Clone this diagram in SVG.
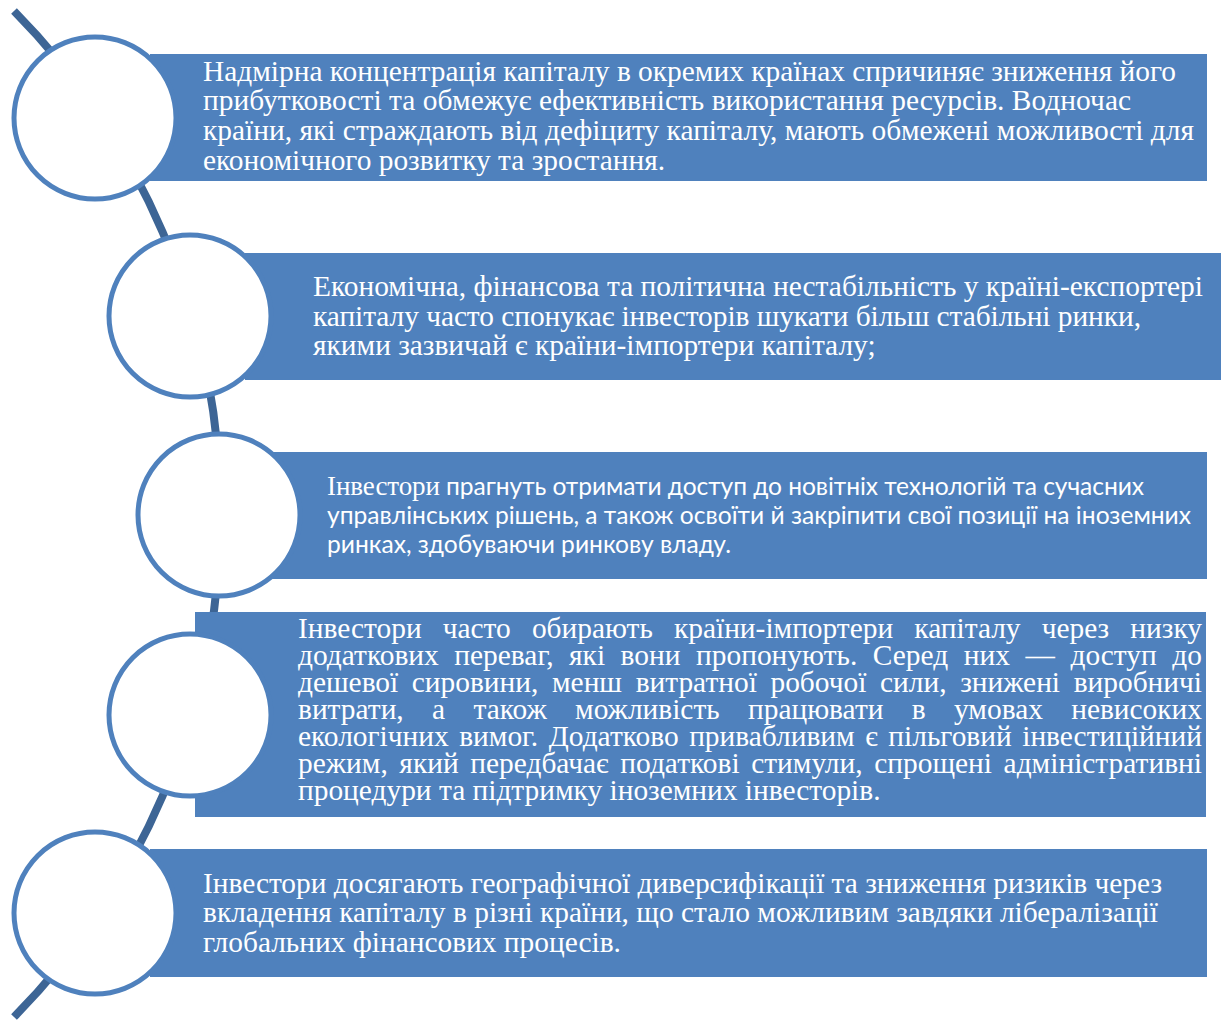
<svg xmlns="http://www.w3.org/2000/svg" width="1226" height="1021" viewBox="0 0 1226 1021">
<style>
.box{fill:#4f81bd}
.circ{fill:#ffffff;stroke:#4f81bd;stroke-width:5}
.arc{fill:none;stroke:#3d6595;stroke-width:8}
.t{font-family:"Liberation Serif","Times New Roman",serif;font-size:29.4px;fill:#ffffff}
.sans{font-family:Lato,"Open Sans","Liberation Sans",sans-serif;font-size:24.6px;fill:#ffffff}
.sf{font-family:"Liberation Serif","Times New Roman",serif;font-size:27px}
</style>
<g id="connectors">
<path class="arc" d="M14,11 A716,716 0 0 1 14,1017"/>
</g>
<g id="node1">
<rect class="box" x="150" y="54" width="1057" height="127"/>
<circle class="circ" cx="95" cy="118" r="81"/>
<text class="t">
<tspan x="203" y="81" textLength="973" lengthAdjust="spacing">Надмірна концентрація капіталу в окремих країнах спричиняє зниження його</tspan>
<tspan x="203" y="110" textLength="928" lengthAdjust="spacing">прибутковості та обмежує ефективність використання ресурсів. Водночас</tspan>
<tspan x="203" y="140" textLength="991" lengthAdjust="spacing">країни, які страждають від дефіциту капіталу, мають обмежені можливості для</tspan>
<tspan x="203" y="170">економічного розвитку та зростання.</tspan>
</text>
</g>
<g id="node2">
<rect class="box" x="245" y="253" width="976" height="127"/>
<circle class="circ" cx="190" cy="316" r="81"/>
<text class="t">
<tspan x="313" y="296" textLength="890" lengthAdjust="spacing">Економічна, фінансова та політична нестабільність у країні-експортері</tspan>
<tspan x="313" y="326" textLength="828" lengthAdjust="spacing">капіталу часто спонукає інвесторів шукати більш стабільні ринки,</tspan>
<tspan x="313" y="355">якими зазвичай є країни-імпортери капіталу;</tspan>
</text>
</g>
<g id="node3">
<rect class="box" x="260" y="452" width="947" height="127"/>
<circle class="circ" cx="219" cy="515" r="81"/>
<text class="sans">
<tspan x="327" y="495" textLength="817" lengthAdjust="spacing"><tspan class="sf">Інвестори</tspan> прагнуть отримати доступ до новітніх технологій та сучасних</tspan>
<tspan x="327" y="524" textLength="864" lengthAdjust="spacing">управлінських рішень, а також освоїти й закріпити свої позиції на іноземних</tspan>
<tspan x="327" y="553">ринках, здобуваючи ринкову владу.</tspan>
</text>
</g>
<g id="node4">
<rect class="box" x="195" y="612" width="1011" height="205"/>
<circle class="circ" cx="190" cy="715" r="81"/>
<text class="t">
<tspan x="298" y="638" word-spacing="13.8" textLength="904" lengthAdjust="spacing">Інвестори часто обирають країни-імпортери капіталу через низку</tspan>
<tspan x="298" y="665" word-spacing="8.2" textLength="904" lengthAdjust="spacing">додаткових переваг, які вони пропонують. Серед них — доступ до</tspan>
<tspan x="298" y="692" word-spacing="6.3" textLength="904" lengthAdjust="spacing">дешевої сировини, менш витратної робочої сили, знижені виробничі</tspan>
<tspan x="298" y="719" word-spacing="21" textLength="904" lengthAdjust="spacing">витрати, а також можливість працювати в умовах невисоких</tspan>
<tspan x="298" y="746" word-spacing="3.2" textLength="904" lengthAdjust="spacing">екологічних вимог. Додатково привабливим є пільговий інвестиційний</tspan>
<tspan x="298" y="773" word-spacing="4.2" textLength="904" lengthAdjust="spacing">режим, який передбачає податкові стимули, спрощені адміністративні</tspan>
<tspan x="298" y="800">процедури та підтримку іноземних інвесторів.</tspan>
</text>
</g>
<g id="node5">
<rect class="box" x="150" y="849" width="1057" height="128"/>
<circle class="circ" cx="95" cy="913" r="81"/>
<text class="t">
<tspan x="203" y="893" textLength="959" lengthAdjust="spacing">Інвестори досягають географічної диверсифікації та зниження ризиків через</tspan>
<tspan x="203" y="922" textLength="955" lengthAdjust="spacing">вкладення капіталу в різні країни, що стало можливим завдяки лібералізації</tspan>
<tspan x="203" y="952">глобальних фінансових процесів.</tspan>
</text>
</g>
</svg>
